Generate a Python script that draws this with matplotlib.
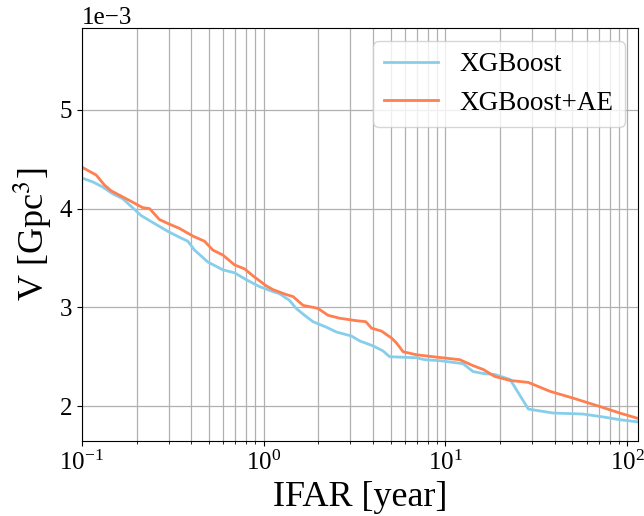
import numpy as np
from matplotlib import pyplot as plt

plt.rcParams['font.family'] = ['Liberation Serif', 'DejaVu Serif']
plt.rcParams['mathtext.fontset'] = 'stix'

# IFAR [year] and sensitive volume [Gpc^3]
ifar_xgb = [0.1, 0.115, 0.13, 0.148, 0.168, 0.19, 0.212, 0.24, 0.297, 0.344,
            0.383, 0.417, 0.493, 0.597, 0.692, 0.803, 0.95, 1.125, 1.22, 1.39,
            1.51, 1.68, 1.87, 2.21, 2.52, 3.04, 3.38, 4.0, 4.53, 4.94,
            6.94, 7.7, 9.33, 12.5, 14.2, 16.2, 18.7, 22.7, 28.6, 39.2,
            57, 74, 93, 115]
vol_xgb = [4.31, 4.27, 4.22, 4.15, 4.10, 4.01, 3.93, 3.87, 3.77, 3.71,
           3.67, 3.58, 3.46, 3.38, 3.35, 3.28, 3.21, 3.16, 3.14, 3.07,
           2.99, 2.92, 2.855, 2.80, 2.75, 2.71, 2.66, 2.61, 2.56, 2.50,
           2.49, 2.47, 2.46, 2.43, 2.35, 2.33, 2.32, 2.27, 1.97, 1.93,
           1.92, 1.89, 1.86, 1.84]

ifar_ae = [0.1, 0.12, 0.133, 0.145, 0.195, 0.216, 0.236, 0.267, 0.297, 0.344,
           0.41, 0.473, 0.526, 0.597, 0.692, 0.786, 0.873, 1.03, 1.125, 1.33,
           1.45, 1.65, 1.99, 2.26, 2.62, 3.24, 3.65, 3.92, 4.45, 5.05,
           5.38, 5.86, 6.94, 8.57, 12.0, 14.2, 16.2, 18.7, 22.7, 28.6,
           37.6, 50.6, 71, 91, 115]
vol_ae = [4.42, 4.34, 4.24, 4.18, 4.055, 4.01, 4.0, 3.89, 3.85, 3.80,
          3.72, 3.67, 3.58, 3.53, 3.43, 3.39, 3.32, 3.22, 3.18, 3.13,
          3.11, 3.02, 2.99, 2.92, 2.89, 2.865, 2.855, 2.79, 2.76, 2.69,
          2.64, 2.55, 2.52, 2.50, 2.47, 2.41, 2.37, 2.30, 2.26, 2.24,
          2.15, 2.08, 1.995, 1.93, 1.875]

fig = plt.figure(figsize=(6.44, 5.16), dpi=100)
ax = fig.add_axes([0.127, 0.145, 0.864, 0.801])

ax.plot(ifar_xgb, np.array(vol_xgb) * 1e-3, color='skyblue', lw=2.0, label='XGBoost')
ax.plot(ifar_ae, np.array(vol_ae) * 1e-3, color='coral', lw=2.0, label='XGBoost+AE')

ax.set_xscale('log')
ax.set_xlim(0.1, 115)
ax.set_ylim(1.645e-3, 5.83e-3)
ax.set_yticks([2e-3, 3e-3, 4e-3, 5e-3])
ax.ticklabel_format(axis='y', style='sci', scilimits=(-3, -3))
ax.yaxis.get_offset_text().set_fontsize(18)
ax.tick_params(labelsize=18)
ax.grid(True, which='both', color='#b0b0b0', lw=0.9)

ax.set_xlabel('IFAR [year]', fontsize=26)
ax.set_ylabel('V [Gpc$^3$]', fontsize=26)
ax.legend(loc='upper right', fontsize=19.5)

fig.savefig('out.png', dpi=100)
